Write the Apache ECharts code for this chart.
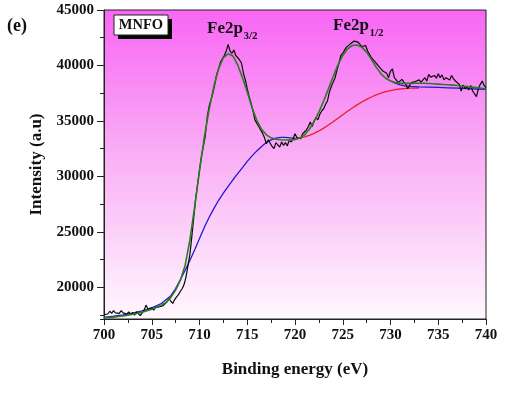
<!DOCTYPE html>
<html>
<head>
<meta charset="utf-8">
<script src="https://cdn.jsdelivr.net/npm/echarts@6/dist/echarts.min.js"></script>
<style>
  html, body { margin: 0; padding: 0; background: #ffffff; }
  #chart { width: 515px; height: 394px; }
</style>
</head>
<body>
<div id="chart"></div>
<script>
// Fe 2p XPS spectrum of MNFO: raw counts, fitted envelope and Shirley-type backgrounds
const xTicks = [700, 705, 710, 715, 720, 725, 730, 735, 740];
const yTicks = [20000, 25000, 30000, 35000, 40000, 45000];

// measured spectrum [binding energy (eV), intensity (a.u.)]
const rawSpectrum = [
  [700.0,17550],[700.2,17700],[700.4,17600],[700.6,17850],[700.8,17650],[701.0,17900],[701.2,17700],[701.4,17850],
  [701.6,17650],[701.8,17900],[702.0,17700],[702.2,17850],[702.4,17600],[702.6,17800],[702.8,17550],[703.0,17750],
  [703.2,17500],[703.4,17800],[703.6,17650],[703.8,17450],[704.0,17700],[704.2,17950],[704.4,18400],[704.6,18050],
  [704.8,17950],[705.0,18150],[705.2,17950],[705.4,18200],[705.6,18050],[705.8,18250],[706.0,18100],[706.2,18350],
  [706.4,18250],[706.6,18700],[706.8,19000],[707.0,18750],[707.2,18550],[707.4,18900],[707.6,19150],[707.8,19350],
  [708.0,19650],[708.2,19900],[708.4,20300],[708.6,21000],[708.8,22000],[709.0,23000],[709.2,24600],[709.4,26300],
  [709.6,28000],[709.8,29300],[710.0,30600],[710.2,31800],[710.4,32700],[710.6,33600],[710.8,35300],[711.0,36300],
  [711.2,36900],[711.4,37500],[711.6,38300],[711.8,39200],[712.0,39700],[712.2,40300],[712.4,40600],[712.6,40900],
  [712.8,41300],[713.0,41900],[713.2,41300],[713.4,41100],[713.6,41400],[713.8,40900],[714.0,40800],[714.2,40500],
  [714.4,40200],[714.6,39300],[714.8,38700],[715.0,37900],[715.2,37200],[715.4,36600],[715.6,35900],[715.8,35100],
  [716.0,34800],[716.2,34500],[716.4,34200],[716.6,33900],[716.8,33500],[717.0,32950],[717.2,33300],[717.4,33200],
  [717.6,32700],[717.8,32500],[718.0,33050],[718.2,32900],[718.4,32650],[718.6,33100],[718.8,32800],[719.0,33050],
  [719.2,32750],[719.4,33300],[719.6,33100],[719.8,33400],[720.0,33850],[720.2,33500],[720.4,33650],[720.6,33400],
  [720.8,33850],[721.0,33700],[721.2,34200],[721.4,34500],[721.6,34900],[721.8,34500],[722.0,35000],[722.2,35300],
  [722.4,35100],[722.6,35600],[722.8,35900],[723.0,36100],[723.2,36500],[723.4,36800],[723.6,37600],[723.8,38100],
  [724.0,38500],[724.2,38900],[724.4,39600],[724.6,40200],[724.8,40900],[725.0,41100],[725.2,41400],[725.4,41650],
  [725.6,41500],[725.8,41950],[726.0,42000],[726.2,42200],[726.4,42350],[726.6,42100],[726.8,41950],[727.0,41700],
  [727.2,41600],[727.4,41800],[727.6,41300],[727.8,41000],[728.0,40700],[728.2,40500],[728.4,40300],[728.6,40400],
  [728.8,39900],[729.0,39700],[729.2,39500],[729.4,39400],[729.6,39300],[729.8,38900],[730.0,39500],[730.2,39700],
  [730.4,38900],[730.6,38700],[730.8,38450],[731.0,38600],[731.2,38750],[731.4,38500],[731.6,38300],[731.8,37900],
  [732.0,38200],[732.2,38450],[732.4,38300],[732.6,38550],[732.8,38400],[733.0,38700],[733.2,38500],[733.4,38650],
  [733.6,38900],[733.8,38600],[734.0,39200],[734.2,38950],[734.4,38800],[734.6,39100],[734.8,38850],[735.0,39250],
  [735.2,38900],[735.4,39150],[735.6,38700],[735.8,38900],[736.0,39000],[736.2,38700],[736.4,39100],[736.6,38800],
  [736.8,38600],[737.0,38500],[737.2,38300],[737.4,37700],[737.6,38250],[737.8,37900],[738.0,38100],[738.2,37800],
  [738.4,38200],[738.6,37700],[738.8,37600],[739.0,37200],[739.2,37900],[739.4,38300],[739.6,38600],[739.8,38200],
  [740.0,38000]
];

// fitted envelope
const fitEnvelope = [
  [700,17250],[700.5,17280],[701,17320],[701.5,17370],[702,17430],[702.5,17500],[703,17580],[703.5,17670],
  [704,17770],[704.5,17890],[705,18030],[705.5,18200],[706,18400],[706.5,18650],[707,19100],[707.5,19750],
  [708,20650],[708.5,22000],[709,24300],[709.5,27300],[710,30500],[710.5,33500],[711,36000],[711.5,38100],
  [712,39700],[712.5,40700],[713,41050],[713.5,40850],[714,40050],[714.5,38900],[715,37600],[715.5,36200],
  [716,35050],[716.5,34250],[717,33750],[717.5,33480],[718,33350],[718.5,33300],[719,33280],[719.5,33280],
  [720,33320],[720.5,33450],[721,33750],[721.5,34250],[722,34950],[722.5,35800],[723,36800],[723.5,37900],
  [724,39000],[724.5,40050],[725,40900],[725.5,41500],[726,41800],[726.5,41850],[727,41650],[727.5,41200],
  [728,40550],[728.5,39850],[729,39250],[729.5,38850],[730,38600],[730.5,38470],[731,38410],[731.5,38390],
  [732,38390],[732.5,38400],[733,38400],[733.5,38400],[734,38380],[734.5,38350],[735,38320],[735.5,38290],
  [736,38260],[736.5,38230],[737,38190],[737.5,38150],[738,38100],[738.5,38050],[739,38000],[739.5,37950],
  [740,37900]
];

// background under the 2p3/2 line
const background32 = [
  [700,17300],[701,17400],[702,17520],[703,17680],[704,17880],[705,18150],[706,18550],[707,19250],
  [707.5,19900],[708,20700],[708.5,21550],[709,22450],[709.5,23400],[710,24400],[710.5,25400],[711,26300],
  [711.5,27100],[712,27850],[712.5,28500],[713,29100],[713.5,29700],[714,30250],[714.5,30800],[715,31350],
  [715.5,31850],[716,32300],[716.5,32700],[717,33050],[717.5,33300],[718,33450],[718.5,33520],[719,33520],
  [719.5,33480],[720,33420]
];

// background under the 2p1/2 line
const background12 = [
  [720,33420],[720.5,33470],[721,33560],[721.5,33700],[722,33880],[722.5,34100],[723,34350],[723.5,34630],
  [724,34930],[724.5,35240],[725,35560],[725.5,35870],[726,36170],[726.5,36450],[727,36710],[727.5,36950],
  [728,37160],[728.5,37350],[729,37510],[729.5,37640],[730,37740],[730.5,37820],[731,37880],[731.5,37920],
  [732,37950],[732.5,37960],[733,37970]
];

// high-energy tail component
const tailComponent = [
  [730,38600],[730.5,38400],[731,38250],[731.5,38170],[732,38120],[733,38080],[734,38050],[735,38020],
  [736,37990],[737,37950],[738,37910],[739,37880],[740,37850]
];

const serif = '"Liberation Serif", "Times New Roman", serif';
const chart = echarts.init(document.getElementById('chart'), null, { renderer: 'canvas' });

const lineSeries = (name, data, color, width, z) => ({
  name, type: 'line', data, showSymbol: false, symbol: 'none', smooth: false,
  lineStyle: { color, width }, z, animation: false, clip: true
});

chart.setOption({
  animation: false,
  backgroundColor: '#ffffff',
  grid: {
    left: 104, right: 29, top: 10, bottom: 75,
    show: true,
    borderColor: '#222',
    borderWidth: 1,
    backgroundColor: new echarts.graphic.LinearGradient(0, 0, 0, 1, [
      { offset: 0, color: '#f866f5' },
      { offset: 0.45, color: '#f9acf5' },
      { offset: 1, color: '#fff8fe' }
    ])
  },
  xAxis: {
    type: 'value', min: 700, max: 740, interval: 5,
    name: 'Binding energy (eV)', nameLocation: 'middle', nameGap: 42,
    nameTextStyle: { fontFamily: serif, fontWeight: 'bold', fontSize: 17, color: '#111' },
    axisLine: { lineStyle: { color: '#222', width: 1 } },
    axisTick: { show: true, inside: false, length: 6, lineStyle: { color: '#222' } },
    minorTick: { show: true, splitNumber: 2, length: 4, lineStyle: { color: '#222' } },
    axisLabel: {
      fontFamily: serif, fontWeight: 'bold', fontSize: 15, color: '#111', margin: 9,
      formatter: v => (xTicks.indexOf(v) >= 0 ? String(v) : '')
    },
    splitLine: { show: false }
  },
  yAxis: [
    {
      type: 'value', min: 17150, max: 45000, minInterval: 5000, maxInterval: 5000,
      name: 'Intensity (a.u)', nameLocation: 'middle', nameGap: 57, nameRotate: 90,
      nameTextStyle: { fontFamily: serif, fontWeight: 'bold', fontSize: 17, color: '#111' },
      axisLine: { show: true, lineStyle: { color: '#222', width: 1 } },
      axisTick: { show: true, inside: false, length: 7, lineStyle: { color: '#222' } },
      axisLabel: {
        fontFamily: serif, fontWeight: 'bold', fontSize: 15, color: '#111', margin: 10,
        showMinLabel: false,
        formatter: v => (yTicks.indexOf(v) >= 0 ? String(v) : '')
      },
      splitLine: { show: false }
    },
    {
      type: 'value', min: 17150, max: 45000, minInterval: 2500, maxInterval: 2500,
      position: 'left', offset: 0,
      axisLine: { show: false },
      axisTick: { show: true, inside: false, length: 4, lineStyle: { color: '#222' } },
      axisLabel: { show: false },
      splitLine: { show: false }
    }
  ],
  series: [
    lineSeries('background 2p3/2', background32, '#1c1cd0', 1.3, 2),
    lineSeries('background 2p1/2', background12, '#e02424', 1.3, 2),
    lineSeries('tail', tailComponent, '#1c1cd0', 1.3, 2),
    lineSeries('raw', rawSpectrum, '#0a0a0a', 1.2, 3),
    lineSeries('fit', fitEnvelope, '#2c7a22', 1.6, 4)
  ],
  graphic: [
    { type: 'text', left: 7, top: 17, style: { text: '(e)', font: 'bold 18px ' + serif, fill: '#111' } },
    { type: 'rect', shape: { x: 118, y: 19, width: 54, height: 20 }, style: { fill: '#000' }, z: 10 },
    { type: 'rect', shape: { x: 114, y: 15, width: 54, height: 20 }, style: { fill: '#fff', stroke: '#222', lineWidth: 1 }, z: 11 },
    { type: 'text', x: 141, y: 25, style: { text: 'MNFO', font: 'bold 14.5px ' + serif, fill: '#111', align: 'center', verticalAlign: 'middle' }, z: 12 },
    { type: 'text', x: 207, y: 20, style: { text: 'Fe2p', font: 'bold 17px ' + serif, fill: '#111', align: 'left', verticalAlign: 'top' }, z: 12 },
    { type: 'text', x: 243.5, y: 31, style: { text: '3/2', font: 'bold 11px ' + serif, fill: '#111', align: 'left', verticalAlign: 'top' }, z: 12 },
    { type: 'text', x: 333, y: 17, style: { text: 'Fe2p', font: 'bold 17px ' + serif, fill: '#111', align: 'left', verticalAlign: 'top' }, z: 12 },
    { type: 'text', x: 369.5, y: 28, style: { text: '1/2', font: 'bold 11px ' + serif, fill: '#111', align: 'left', verticalAlign: 'top' }, z: 12 }
  ]
});
</script>
</body>
</html>
